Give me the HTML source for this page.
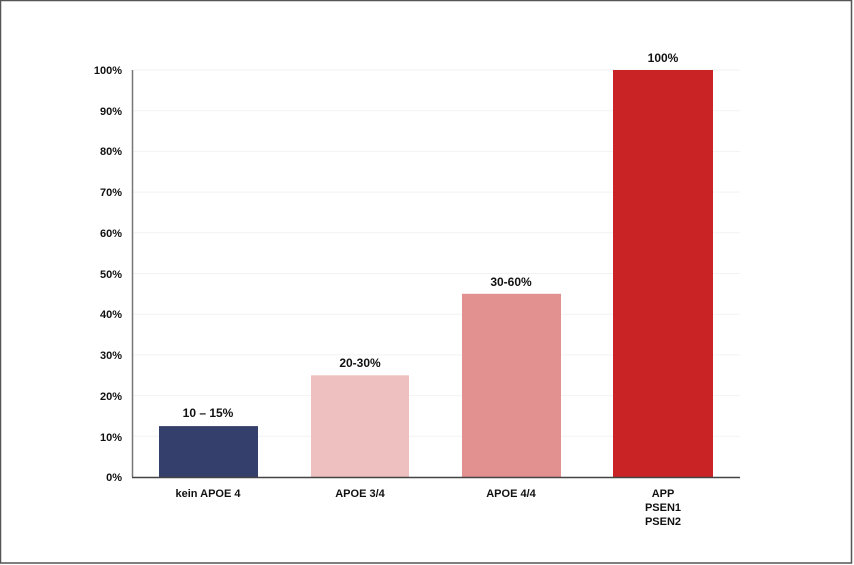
<!DOCTYPE html>
<html><head><style>
body{margin:0;background:#fff}
svg{display:block}
text{font-family:"Liberation Sans",Arial,sans-serif;font-weight:bold;font-size:11px;fill:#111}
</style></head><body>
<svg width="854" height="565" viewBox="0 0 854 565">
<rect x="0.5" y="0.5" width="851" height="562.5" fill="#fff" stroke="#555" stroke-width="1.5"/>
<g stroke="#f2f2f2" stroke-width="1">
<line x1="133" x2="740" y1="70" y2="70"/><line x1="133" x2="740" y1="110.7" y2="110.7"/>
<line x1="133" x2="740" y1="151.4" y2="151.4"/><line x1="133" x2="740" y1="192.1" y2="192.1"/>
<line x1="133" x2="740" y1="232.8" y2="232.8"/><line x1="133" x2="740" y1="273.5" y2="273.5"/>
<line x1="133" x2="740" y1="314.2" y2="314.2"/><line x1="133" x2="740" y1="354.9" y2="354.9"/>
<line x1="133" x2="740" y1="395.6" y2="395.6"/><line x1="133" x2="740" y1="436.3" y2="436.3"/>
</g>
<rect x="159" y="426.1" width="99" height="50.9" fill="#353f6b"/>
<rect x="311" y="375.3" width="98" height="101.7" fill="#efc0c0"/>
<rect x="462" y="293.8" width="99" height="183.2" fill="#e29090"/>
<rect x="613" y="70" width="100" height="407" fill="#c92325"/>
<line x1="132.5" x2="132.5" y1="70" y2="477" stroke="#777" stroke-width="1.5"/>
<line x1="132" x2="740" y1="477.5" y2="477.5" stroke="#444" stroke-width="1.5"/>
<g text-anchor="end">
<text x="122" y="74">100%</text><text x="122" y="115">90%</text><text x="122" y="155">80%</text>
<text x="122" y="196">70%</text><text x="122" y="237">60%</text><text x="122" y="278">50%</text>
<text x="122" y="318">40%</text><text x="122" y="359">30%</text><text x="122" y="400">20%</text>
<text x="122" y="441">10%</text><text x="122" y="481">0%</text>
</g>
<g text-anchor="middle" font-size="12">
<text x="208" y="417" style="font-size:12px">10 – 15%</text>
<text x="360" y="367" style="font-size:12px">20-30%</text>
<text x="511" y="286" style="font-size:12px">30-60%</text>
<text x="663" y="62" style="font-size:12px">100%</text>
<text x="208" y="497">kein APOE 4</text>
<text x="360" y="497">APOE 3/4</text>
<text x="511" y="497">APOE 4/4</text>
<text x="663" y="497">APP</text>
<text x="663" y="511">PSEN1</text>
<text x="663" y="525">PSEN2</text>
</g>
</svg>
</body></html>
